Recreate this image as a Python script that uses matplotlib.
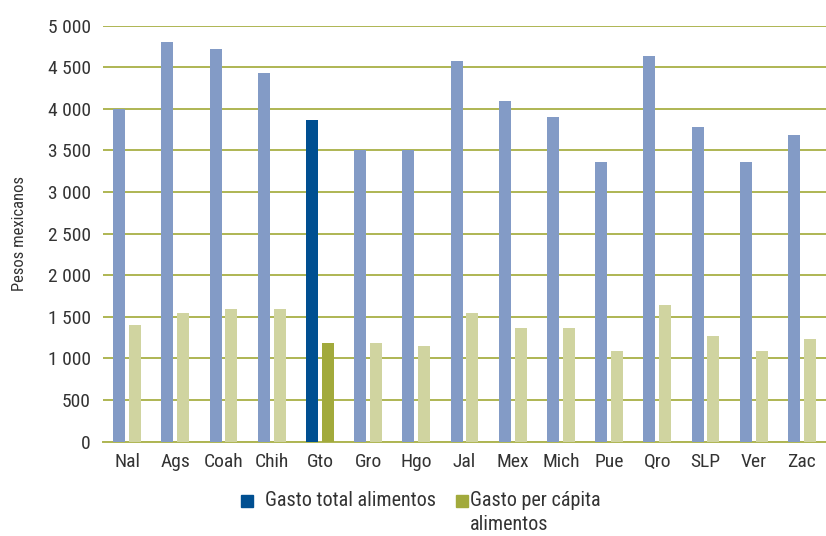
import matplotlib.pyplot as plt
import numpy as np
from matplotlib.patches import Rectangle

estados = ['Nal', 'Ags', 'Coah', 'Chih', 'Gto', 'Gro', 'Hgo', 'Jal', 'Mex',
           'Mich', 'Pue', 'Qro', 'SLP', 'Ver', 'Zac']
gasto_total = [4000, 4810, 4720, 4435, 3870, 3500, 3500, 4570, 4100,
               3900, 3360, 4630, 3780, 3360, 3685]
gasto_pc = [1400, 1550, 1600, 1600, 1190, 1190, 1145, 1550, 1370,
            1370, 1090, 1640, 1270, 1090, 1240]
resaltado = 'Gto'
leyenda = ['Gasto total alimentos', 'Gasto per cápita\nalimentos']

plt.rcParams['font.family'] = ['Roboto Condensed', 'Open Sans Condensed',
                               'Liberation Sans Narrow', 'DejaVu Sans']

azul_claro = '#839BC6'
azul_osc = '#004F91'
verde_claro = '#D0D4A0'
verde_osc = '#A2AA3C'
linea = '#AEB553'
texto = '#333333'

W, H = 826, 536
fig = plt.figure(figsize=(W / 100, H / 100), dpi=100)
ax = fig.add_axes([103/W, 1 - 441.7/H, 723/W, 416/H])

x = np.arange(len(estados))
c1 = [azul_osc if e == resaltado else azul_claro for e in estados]
c2 = [verde_osc if e == resaltado else verde_claro for e in estados]
w = 0.25
ax.bar(x - 0.165, gasto_total, w, color=c1, zorder=3)
ax.bar(x + 0.165, gasto_pc, w, color=c2, zorder=3)

ax.set_xlim(-0.5, len(estados) - 0.5)
ax.set_ylim(0, 5000)
yt = np.arange(0, 5001, 500)
ax.set_yticks(yt)
ax.set_yticklabels([f'{v:,}'.replace(',', ' ') for v in yt])
ax.set_xticks(x)
ax.set_xticklabels(estados)
ax.yaxis.grid(True, color=linea, linewidth=1.4, zorder=0)
ax.set_axisbelow(True)
for s in ['top', 'right', 'left']:
    ax.spines[s].set_visible(False)
ax.spines['bottom'].set_color(linea)
ax.spines['bottom'].set_linewidth(1.4)
ax.tick_params(length=0, labelsize=14, colors=texto)
ax.tick_params(axis='y', pad=9)
ax.tick_params(axis='x', pad=8)
ax.set_ylabel('Pesos mexicanos', fontsize=12, color=texto)
ax.yaxis.set_label_coords(-76/723, 0.5)

# leyenda manual, la segunda etiqueta va en dos lineas bajo el cuadro
for (xc, xt, col, lab) in [(241, 265, azul_osc, leyenda[0]),
                           (456, 470, verde_osc, leyenda[1])]:
    fig.add_artist(Rectangle((xc / W, 1 - 507/H), 12 / W, 12 / H,
                             color=col, transform=fig.transFigure))
    fig.text(xt / W, 1 - 491/H, lab, fontsize=14.5, color=texto,
             va='top', ha='left', linespacing=1.3)

fig.savefig('out.png', dpi=100)
